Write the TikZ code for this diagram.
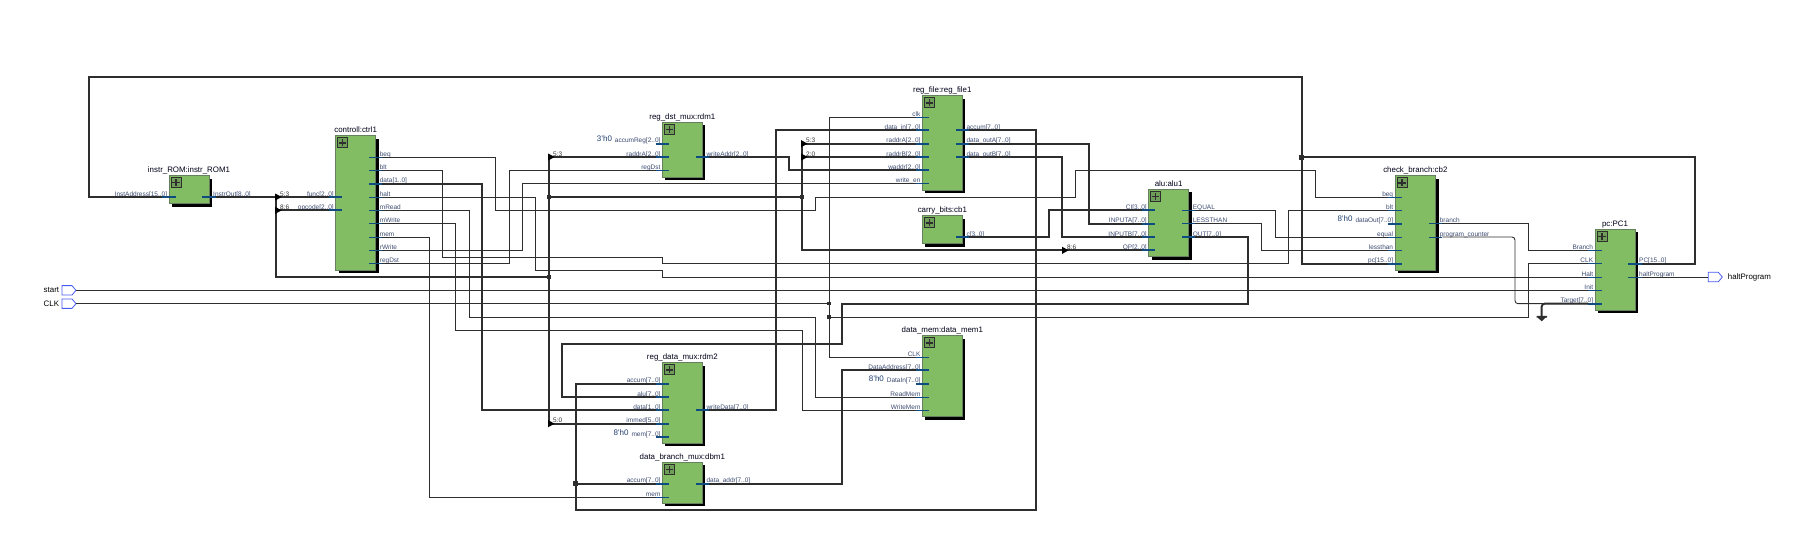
\documentclass[tikz,border=0pt]{standalone}
\usepackage{fontspec}
\setmainfont{Liberation Sans}
\usetikzlibrary{shadows,arrows.meta}
\definecolor{blockgreen}{HTML}{82BD64}
\definecolor{iconcolor}{HTML}{6F9E58}
\definecolor{blockline}{HTML}{66805F}
\definecolor{stubblue}{HTML}{0F4C81}
\definecolor{wiregray}{HTML}{2E2E2E}
\definecolor{pinblue}{HTML}{4A5CF0}
\definecolor{portink}{HTML}{3C4A70}
\definecolor{constink}{HTML}{1F3F70}
\tikzset{
  rtlbox/.style={rectangle, anchor=north west, draw=blockline, line width=0.9pt, fill=blockgreen, inner sep=0pt, outer sep=0pt, drop shadow={shadow xshift=3pt, shadow yshift=-3pt, fill=black, opacity=1}},
  rtlicon/.style={rectangle, anchor=north west, draw=wiregray, line width=0.8pt, fill=iconcolor, inner sep=0pt, outer sep=0pt, minimum size=10pt},
  blocktitle/.style={anchor=base, inner sep=0pt, font=\fontsize{7.9}{9}\selectfont, text=black!90!blue},
  portlabel/.style={inner sep=0pt, font=\fontsize{6.5}{8}\selectfont, text=portink},
  slicelabel/.style={anchor=base west, inner sep=0pt, font=\fontsize{6.5}{8}\selectfont, text=black!80},
  constlabel/.style={anchor=base east, inner sep=0pt, font=\fontsize{8}{9}\selectfont, text=constink},
  pinlabel/.style={inner sep=0pt, font=\fontsize{7.9}{9}\selectfont, text=black},
  wirestub/.style={draw=stubblue, line width=0.9pt},
  busstub/.style={draw=stubblue, line width=1.7pt},
  thinwire/.style={draw=wiregray, line width=0.9pt},
  buswire/.style={draw=wiregray, line width=1.9pt},
  rtldot/.style={rectangle, fill=wiregray, inner sep=0pt, outer sep=0pt, minimum size=#1},
  pinline/.style={draw=pinblue, line width=0.8pt, fill=white}
}
\newcommand{\rtlblock}[5] {
  \node at (#2) (#1) [rtlbox, minimum width=#3pt, minimum height=#4pt] {};
  \node at ([xshift=2pt, yshift=-2.2pt]#1.north west) (#1icon) [rtlicon] {};
  \draw [wiregray, line width=1.3pt] (#1icon.center) +(-3.6,0) -- +(3.6,0) +(0,-3.6) -- +(0,3.6);
  \node at ([yshift=2.7pt]#1.north) (#1title) [blocktitle] {#5};
}
\newcommand{\rtlin}[5] {
  \path (#1.west |- 0,#3) coordinate (#1#2edge) +(-6.67,0) coordinate (#1#2) +(6.67,0) coordinate (#1#2end);
  \draw [#5] (#1#2) -- (#1#2end);
  \node at ([xshift=-1.7pt, yshift=1pt]#1#2edge) (#1#2label) [portlabel, anchor=base east] {#4};
}
\newcommand{\rtlout}[5] {
  \path (#1.east |- 0,#3) coordinate (#1#2edge) +(6.67,0) coordinate (#1#2) +(-6.67,0) coordinate (#1#2end);
  \draw [#5] (#1#2end) -- (#1#2);
  \node at ([xshift=4pt, yshift=1pt]#1#2edge) (#1#2label) [portlabel, anchor=base west] {#4};
}
\newcommand{\rtlconst}[2] {\node at ([xshift=-2.5pt, yshift=0.7pt]#1label.base west) (#1const) [constlabel] {#2};}
\newcommand{\rtlwire}[2] {\draw [#1] #2;}
\newcommand{\rtljoin}[3] {\node at (#2) (#1) [rtldot=#3pt] {};}
\newcommand{\rtlslice}[3] {
  \coordinate (#1) at (#2);
  \node at ([xshift=4pt, yshift=1pt]#1) (#1label) [slicelabel] {#3};
}
\newcommand{\rtlhead}[1] {\fill [black] (#1) +(-0.8,-3.5) -- +(5.6,0) -- +(-0.8,3.5) -- cycle;}
\newcommand{\rtlpin}[2] {
  \coordinate (#1) at (#2);
  \draw [pinline] (#1) -- ++(-4,-4.7) -- ++(-10,0) -- ++(0,9.4) -- ++(10,0) -- cycle;
  \coordinate (#1rear) at ([xshift=-14pt]#1);
}

\begin{document}
\begin{tikzpicture}[x=1pt, y=-1pt]
\useasboundingbox (0,0) rectangle (1808,558);

\rtlblock {rom1} {169,175.5} {40} {28} {instr\_ROM:instr\_ROM1}
\rtlblock {ctrl1} {335.67,135.67} {40} {134.33} {controll:ctrl1}
\rtlblock {rdm1} {662.33,122.33} {40} {54.67} {reg\_dst\_mux:rdm1}
\rtlblock {regf1} {922.33,95.67} {40} {94.67} {reg\_file:reg\_file1}
\rtlblock {carry1} {922.33,215.67} {40} {28} {carry\_bits:cb1}
\rtlblock {alu1} {1148.67,189.33} {40} {67.33} {alu:alu1}
\rtlblock {cb2} {1395,175.67} {40.67} {94.33} {check\_branch:cb2}
\rtlblock {pc1} {1595,229} {40} {81.33} {pc:PC1}
\rtlblock {rdm2} {662.33,362.67} {40} {80.67} {reg\_data\_mux:rdm2}
\rtlblock {dbm1} {662.33,462.33} {40} {41} {data\_branch\_mux:dbm1}
\rtlblock {dmem1} {922.33,335.67} {40} {81} {data\_mem:data\_mem1}

\rtlin {rom1} {addr} {197} {InstAddress[15..0]} {busstub}
\rtlout {rom1} {out} {197} {InstrOut[8..0]} {busstub}

\rtlin {ctrl1} {func} {197} {func[2..0]} {busstub}
\rtlin {ctrl1} {opcode} {210.33} {opcode[2..0]} {busstub}
\rtlout {ctrl1} {beq} {157} {beq} {wirestub}
\rtlout {ctrl1} {blt} {170.33} {blt} {wirestub}
\rtlout {ctrl1} {data} {183.67} {data[1..0]} {busstub}
\rtlout {ctrl1} {halt} {197} {halt} {wirestub}
\rtlout {ctrl1} {mRead} {210.33} {mRead} {wirestub}
\rtlout {ctrl1} {mWrite} {223.67} {mWrite} {wirestub}
\rtlout {ctrl1} {mem} {237} {mem} {wirestub}
\rtlout {ctrl1} {rWrite} {250.33} {rWrite} {wirestub}
\rtlout {ctrl1} {regDst} {263.67} {regDst} {wirestub}

\rtlin {rdm1} {accumReg} {143.67} {accumReg[2..0]} {busstub}
\rtlin {rdm1} {raddrA} {157} {raddrA[2..0]} {busstub}
\rtlin {rdm1} {regDst} {170.33} {regDst} {wirestub}
\rtlout {rdm1} {writeAddr} {157} {writeAddr[2..0]} {busstub}
\rtlconst {rdm1accumReg} {3'h0}

\rtlin {regf1} {clk} {117} {clk} {wirestub}
\rtlin {regf1} {datain} {130.33} {data\_in[7..0]} {busstub}
\rtlin {regf1} {raddrA} {143.67} {raddrA[2..0]} {busstub}
\rtlin {regf1} {raddrB} {157} {raddrB[2..0]} {busstub}
\rtlin {regf1} {waddr} {170.33} {waddr[2..0]} {busstub}
\rtlin {regf1} {writeen} {183.67} {write\_en} {wirestub}
\rtlout {regf1} {accum} {130.33} {accum[7..0]} {busstub}
\rtlout {regf1} {outA} {143.67} {data\_outA[7..0]} {busstub}
\rtlout {regf1} {outB} {157} {data\_outB[7..0]} {busstub}

\rtlout {carry1} {c} {237} {c[3..0]} {busstub}

\rtlin {alu1} {CI} {210.33} {CI[3..0]} {busstub}
\rtlin {alu1} {INPUTA} {223.67} {INPUTA[7..0]} {busstub}
\rtlin {alu1} {INPUTB} {237} {INPUTB[7..0]} {busstub}
\rtlin {alu1} {OP} {250.33} {OP[2..0]} {busstub}
\rtlout {alu1} {EQUAL} {210.33} {EQUAL} {wirestub}
\rtlout {alu1} {LESSTHAN} {223.67} {LESSTHAN} {wirestub}
\rtlout {alu1} {OUT} {237} {OUT[7..0]} {busstub}

\rtlin {cb2} {beq} {197} {beq} {wirestub}
\rtlin {cb2} {blt} {210.33} {blt} {wirestub}
\rtlin {cb2} {dataOut} {223.67} {dataOut[7..0]} {busstub}
\rtlin {cb2} {equal} {237} {equal} {wirestub}
\rtlin {cb2} {lessthan} {250.33} {lessthan} {wirestub}
\rtlin {cb2} {pc} {263.67} {pc[15..0]} {busstub}
\rtlout {cb2} {branch} {223.67} {branch} {wirestub}
\rtlout {cb2} {counter} {237} {program\_counter} {wirestub}
\rtlconst {cb2dataOut} {8'h0}

\rtlin {pc1} {Branch} {250.33} {Branch} {wirestub}
\rtlin {pc1} {CLK} {263.67} {CLK} {wirestub}
\rtlin {pc1} {Halt} {277} {Halt} {wirestub}
\rtlin {pc1} {Init} {290.33} {Init} {wirestub}
\rtlin {pc1} {Target} {303.67} {Target[7..0]} {busstub}
\rtlout {pc1} {PC} {263.67} {PC[15..0]} {busstub}
\rtlout {pc1} {halt} {277} {haltProgram} {wirestub}

\rtlin {rdm2} {accum} {383.67} {accum[7..0]} {busstub}
\rtlin {rdm2} {alu} {397} {alu[7..0]} {busstub}
\rtlin {rdm2} {data} {410.33} {data[1..0]} {busstub}
\rtlin {rdm2} {immed} {423.67} {immed[5..0]} {busstub}
\rtlin {rdm2} {mem} {437} {mem[7..0]} {busstub}
\rtlout {rdm2} {writeData} {410.33} {writeData[7..0]} {busstub}
\rtlconst {rdm2mem} {8'h0}

\rtlin {dbm1} {accum} {483.67} {accum[7..0]} {busstub}
\rtlin {dbm1} {mem} {497} {mem} {wirestub}
\rtlout {dbm1} {addr} {483.67} {data\_addr[7..0]} {busstub}

\rtlin {dmem1} {CLK} {357} {CLK} {wirestub}
\rtlin {dmem1} {addr} {370.33} {DataAddress[7..0]} {busstub}
\rtlin {dmem1} {DataIn} {383.67} {DataIn[7..0]} {busstub}
\rtlin {dmem1} {ReadMem} {397} {ReadMem} {wirestub}
\rtlin {dmem1} {WriteMem} {410.33} {WriteMem} {wirestub}
\rtlconst {dmem1DataIn} {8'h0}

\rtlpin {start} {76,290.33}
\rtlpin {CLK} {76,303.67}
\rtlpin {haltout} {1722.33,277}
\node at ([xshift=-2.7pt]startrear) (startlabel) [pinlabel, anchor=east] {start};
\node at ([xshift=-2.7pt]CLKrear) (CLKlabel) [pinlabel, anchor=east] {CLK};
\node at ([xshift=5.4pt]haltout) (haltoutlabel) [pinlabel, anchor=west] {haltProgram};

\rtljoin {jpc} {1301.67,157} {5}
\rtljoin {jinstr} {549,197} {4.6}
\rtljoin {jlow} {549,277} {4.6}
\rtljoin {jread} {802,197} {4.6}
\rtljoin {jaccum} {575.67,483.67} {4.6}
\rtljoin {jclk} {829,303.67} {3.4}
\rtljoin {jclkpc} {829,317} {3.4}

\rtlslice {sfunc} {276,197} {5:3}
\rtlslice {sopcode} {276,210.33} {8:6}
\rtlslice {sdst} {549,157} {5:3}
\rtlslice {simmed} {549,423.67} {5:0}
\rtlslice {sraddrA} {802,143.67} {5:3}
\rtlslice {sraddrB} {802,157} {2:0}
\rtlslice {sop} {1063,250.33} {8:6}

\rtlwire {buswire} {(cb2pc) -- (1301.67,263.67) -- (1301.67,77) -- (89,77) -- (89,197) -- (rom1addr)};
\rtlwire {buswire} {(pc1PC) -- (1695,263.67) -- (1695,157) -- (jpc.center)};
\rtlwire {buswire} {(rom1out) -- (ctrl1func)};
\rtlwire {buswire} {(sfunc) -- (276,277) -- (jlow.center)};
\rtlwire {buswire} {(sopcode) -- (ctrl1opcode)};
\rtlwire {buswire} {(sdst) -- (simmed)};
\rtlwire {buswire} {(sdst) -- (rdm1raddrA)};
\rtlwire {buswire} {(simmed) -- (rdm2immed)};
\rtlwire {buswire} {(jinstr.center) -- (jread.center)};
\rtlwire {buswire} {(sraddrA) -- (802,250.33) -- (sop) -- (alu1OP)};
\rtlwire {buswire} {(sraddrA) -- (regf1raddrA)};
\rtlwire {buswire} {(sraddrB) -- (regf1raddrB)};
\rtlwire {buswire} {(ctrl1data) -- (482.33,183.67) -- (482.33,410.33) -- (rdm2data)};
\rtlwire {buswire} {(rdm1writeAddr) -- (789,157) -- (789,170.33) -- (regf1waddr)};
\rtlwire {buswire} {(rdm2writeData) -- (775.67,410.33) -- (775.67,130.33) -- (regf1datain)};
\rtlwire {buswire} {(regf1accum) -- (1035.67,130.33) -- (1035.67,510.33) -- (575.67,510.33) -- (575.67,383.67) -- (rdm2accum)};
\rtlwire {buswire} {(jaccum.center) -- (dbm1accum)};
\rtlwire {buswire} {(regf1outA) -- (1089,143.67) -- (1089,223.67) -- (alu1INPUTA)};
\rtlwire {buswire} {(regf1outB) -- (1062.33,157) -- (1062.33,237) -- (alu1INPUTB)};
\rtlwire {buswire} {(carry1c) -- (1049,237) -- (1049,210.33) -- (alu1CI)};
\rtlwire {buswire} {(alu1OUT) -- (1248.33,237) -- (1248.33,303.67) -- (842.33,303.67) -- (842.33,343.67) -- (562.33,343.67) -- (562.33,397) -- (rdm2alu)};
\rtlwire {buswire} {(dbm1addr) -- (842.33,483.67) -- (842.33,370.33) -- (dmem1addr)};

\rtlwire {thinwire} {(ctrl1beq) -- (495.67,157) -- (495.67,210.33) -- (815.67,210.33) -- (815.67,197) -- (1075.67,197) -- (1075.67,170.33) -- (1315,170.33) -- (1315,197) -- (cb2beq)};
\rtlwire {thinwire} {(ctrl1blt) -- (442.33,170.33) -- (442.33,257) -- (662.33,257) -- (662.33,263.67) -- (1288.33,263.67) -- (1288.33,210.33) -- (cb2blt)};
\rtlwire {thinwire} {(ctrl1halt) -- (535.67,197) -- (535.67,270.33) -- (662.33,270.33) -- (662.33,277) -- (pc1Halt)};
\rtlwire {thinwire} {(ctrl1mRead) -- (469,210.33) -- (469,317) -- (815.67,317) -- (815.67,397) -- (dmem1ReadMem)};
\rtlwire {thinwire} {(ctrl1mWrite) -- (455.67,223.67) -- (455.67,330.33) -- (802.33,330.33) -- (802.33,410.33) -- (dmem1WriteMem)};
\rtlwire {thinwire} {(ctrl1mem) -- (429,237) -- (429,497) -- (dbm1mem)};
\rtlwire {thinwire} {(ctrl1rWrite) -- (522.33,250.33) -- (522.33,183.67) -- (regf1writeen)};
\rtlwire {thinwire} {(ctrl1regDst) -- (509,263.67) -- (509,170.33) -- (rdm1regDst)};
\rtlwire {thinwire} {(start) -- (pc1Init)};
\rtlwire {thinwire} {(CLK) -- (jclk.center)};
\rtlwire {thinwire} {(regf1clk) -- (829,117) -- (829,357) -- (dmem1CLK)};
\rtlwire {thinwire} {(jclkpc.center) -- (1528.33,317) -- (1528.33,263.67) -- (pc1CLK)};
\rtlwire {thinwire} {(alu1EQUAL) -- (1275.67,210.33) -- (1275.67,237) -- (cb2equal)};
\rtlwire {thinwire} {(alu1LESSTHAN) -- (1261.67,223.67) -- (1261.67,250.33) -- (cb2lessthan)};
\rtlwire {thinwire} {(cb2branch) -- (1528.33,223.67) -- (1528.33,250.33) -- (pc1Branch)};
\rtlwire {thinwire, rounded corners=3pt} {(cb2counter) -- (1515,237) -- (1515,303.67) -- (pc1Target)};
\rtlwire {thinwire} {(pc1halt) -- (haltoutrear)};

\rtlhead {sfunc}
\rtlhead {sopcode}
\rtlhead {sdst}
\rtlhead {simmed}
\rtlhead {sraddrA}
\rtlhead {sraddrB}
\rtlhead {sop}

\coordinate (gnd) at (1541.67,316.67);
\rtlwire {buswire, rounded corners=3pt} {(pc1Target) -- (1541.67,303.67) -- (gnd)};
\fill [wiregray] (gnd) +(-5,-0.7) rectangle +(5.4,0.9) +(-4,0.9) -- +(0,4.6) -- +(4,0.9) -- cycle;
\end{tikzpicture}
\end{document}
